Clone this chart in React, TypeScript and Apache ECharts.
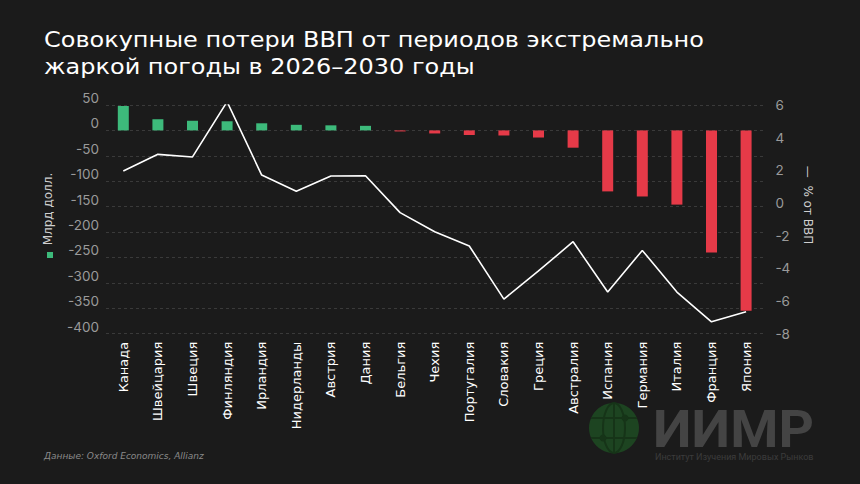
import React, { useEffect, useRef } from "react";
import * as echarts from "echarts";

const categories = [
  "Канада", "Швейцария", "Швеция", "Финляндия", "Ирландия", "Нидерланды", "Австрия",
  "Дания", "Бельгия", "Чехия", "Португалия", "Словакия", "Греция", "Австралия",
  "Испания", "Германия", "Италия", "Франция", "Япония",
];
const lossBn = [48, 22, 19, 18, 14, 11, 10, 9, -2, -6, -9, -10, -14, -34, -120, -130, -146, -240, -355];
const lossPctGdp = [1.96, 2.98, 2.82, 6.2, 1.71, 0.72, 1.65, 1.67, -0.59, -1.76, -2.63, -5.88, -4.16, -2.37, -5.45, -2.9, -5.45, -7.27, -6.66];
const leftTicks = { min: -400, max: 50, interval: 50 };
const rightTicks = { min: -8, max: 6, interval: 2 };

const GREEN = "#3dba7b";
const RED = "#e63a48";
const BG = "#1b1b1b";
const FONT = "Inter, 'Noto Sans', sans-serif";
const WIDE = "'DejaVu Sans', Inter, sans-serif";

export default function App() {
  const ref = useRef<HTMLDivElement>(null);
  useEffect(() => {
    if (!ref.current) return;
    const chart = echarts.init(ref.current, null, { renderer: "svg" });
    chart.setOption({
      animation: false,
      backgroundColor: BG,
      textStyle: { fontFamily: FONT },
      grid: { left: 106, right: 96.6, top: 105, bottom: 150.3, containLabel: false },
      xAxis: {
        type: "category",
        data: categories,
        boundaryGap: true,
        axisLine: { show: false },
        axisTick: { show: false },
        axisLabel: { rotate: 90, color: "#ffffff", fontSize: 13, margin: 8, fontFamily: WIDE },
      },
      yAxis: [
        {
          type: "value",
          min: leftTicks.min,
          max: leftTicks.max,
          interval: leftTicks.interval,
          axisLine: { show: false },
          axisTick: { show: false },
          axisLabel: { color: "#9a9a9a", fontSize: 13.5, margin: 7, verticalAlign: "bottom", fontFamily: FONT },
          splitLine: { show: true, lineStyle: { color: "#3a3a3a", type: [3, 3], width: 1 } },
        },
        {
          type: "value",
          min: rightTicks.min,
          max: rightTicks.max,
          interval: rightTicks.interval,
          position: "right",
          axisLine: { show: false },
          axisTick: { show: false },
          axisLabel: { color: "#9a9a9a", fontSize: 13.5, margin: 12, fontFamily: FONT },
          splitLine: { show: false },
        },
      ],
      series: [
        {
          type: "bar",
          data: lossBn,
          barWidth: 11,
          yAxisIndex: 0,
          itemStyle: { color: (p: any) => (p.value >= 0 ? GREEN : RED) },
        },
        {
          type: "line",
          data: lossPctGdp,
          yAxisIndex: 1,
          showSymbol: false,
          symbol: "none",
          lineStyle: { color: "#ffffff", width: 1.6 },
          z: 5,
        },
      ],
      graphic: [
        {
          type: "text",
          x: 44,
          y: 26,
          scaleX: 1.09,
          style: {
            text: "Совокупные потери ВВП от периодов экстремально\nжаркой погоды в 2026–2030 годы",
            fill: "#ffffff",
            fontSize: 22,
            lineHeight: 27,
            fontFamily: WIDE,
          },
        },
        {
          type: "text",
          x: 48,
          y: 209,
          rotation: Math.PI / 2,
          style: {
            text: "Млрд долл.",
            fill: "#cfcfcf",
            fontSize: 12,
            align: "center",
            verticalAlign: "middle",
            fontFamily: WIDE,
          },
        },
        { type: "rect", shape: { x: 47, y: 252, width: 6, height: 6 }, style: { fill: GREEN } },
        {
          type: "text",
          x: 808,
          y: 205,
          rotation: -Math.PI / 2,
          style: {
            text: "—  % от ВВП",
            fill: "#cfcfcf",
            fontSize: 12,
            align: "center",
            verticalAlign: "middle",
            fontFamily: WIDE,
          },
        },
        {
          type: "text",
          left: 44,
          top: 451,
          style: {
            text: "Данные: Oxford Economics, Allianz",
            fill: "#8a8a8a",
            fontSize: 9,
            fontStyle: "italic",
            fontFamily: WIDE,
          },
        },
        {
          type: "group",
          children: [
            { type: "circle", shape: { cx: 614, cy: 428, r: 25 }, style: { fill: "#1d4421" } },
            { type: "ellipse", shape: { cx: 614, cy: 428, rx: 11, ry: 25 }, style: { fill: "none", stroke: "#163418", lineWidth: 2 } },
            { type: "line", shape: { x1: 614, y1: 403, x2: 614, y2: 453 }, style: { stroke: "#163418", lineWidth: 2 } },
            { type: "line", shape: { x1: 591, y1: 418, x2: 637, y2: 418 }, style: { stroke: "#163418", lineWidth: 2 } },
            { type: "line", shape: { x1: 591, y1: 438, x2: 637, y2: 438 }, style: { stroke: "#163418", lineWidth: 2 } },
            { type: "circle", shape: { cx: 603, cy: 438, r: 3.5 }, style: { fill: "#163418" } },
            { type: "circle", shape: { cx: 625, cy: 418, r: 3.5 }, style: { fill: "#163418" } },
          ],
        },
        {
          type: "text",
          x: 653,
          y: 429,
          scaleX: 1.06,
          style: {
            text: "ИИМР",
            fill: "#444444",
            fontSize: 52,
            lineHeight: 40,
            fontWeight: "bold",
            verticalAlign: "middle",
            fontFamily: "Roboto, Inter, sans-serif",
          },
        },
        {
          type: "text",
          left: 655,
          top: 452,
          style: {
            text: "Институт Изучения Мировых Рынков",
            fill: "#3c3c3c",
            fontSize: 9,
            fontFamily: "Roboto, Inter, sans-serif",
          },
        },
      ],
    });
    return () => chart.dispose();
  }, []);
  return <div ref={ref} style={{ width: 860, height: 484, position: "fixed", left: 0, top: 0 }} />;
}
